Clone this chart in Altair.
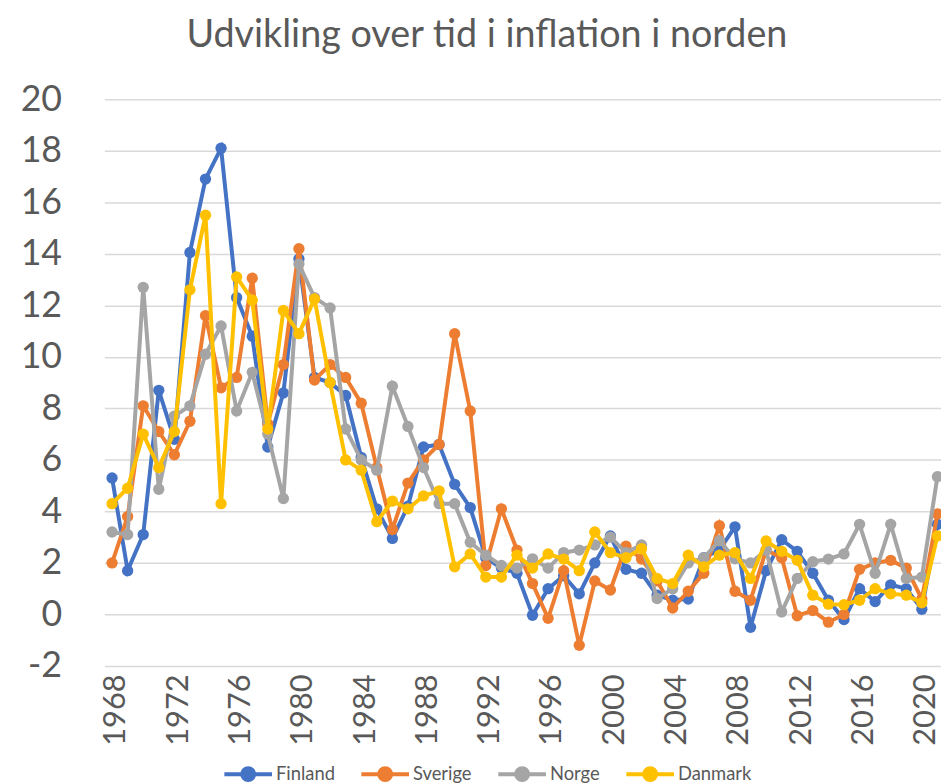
import altair as alt
import pandas as pd

years = list(range(1968, 2022))

finland = [5.3, 1.7, 3.1, 8.7, 6.8, 14.05, 16.9, 18.1, 12.3, 10.8,
           6.5, 8.6, 13.8, 9.2, 9.0, 8.5, 6.1, 4.1, 2.95, 4.2,
           6.5, 6.6, 5.05, 4.15, 2.2, 1.8, 1.6, -0.03, 1.0, 1.5,
           0.8, 2.0, 3.05, 1.75, 1.6, 0.75, 0.55, 0.6, 2.2, 2.5,
           3.4, -0.5, 1.7, 2.9, 2.45, 1.6, 0.55, -0.2, 1.0, 0.5,
           1.15, 1.0, 0.2, 3.5]
sverige = [2.0, 3.8, 8.1, 7.1, 6.2, 7.5, 11.6, 8.8, 9.2, 13.05,
           7.4, 9.7, 14.2, 9.1, 9.7, 9.2, 8.2, 5.7, 3.3, 5.1,
           6.0, 6.6, 10.9, 7.9, 1.9, 4.1, 2.5, 1.2, -0.15, 1.7,
           -1.2, 1.3, 0.95, 2.65, 2.15, 1.3, 0.25, 0.9, 1.6, 3.45,
           0.9, 0.55, 2.5, 2.2, -0.05, 0.15, -0.3, 0.0, 1.75, 2.0,
           2.1, 1.8, 0.6, 3.9]
norge = [3.2, 3.1, 12.7, 4.86, 7.7, 8.1, 10.1, 11.2, 7.9, 9.4,
         7.0, 4.5, 13.6, 12.3, 11.9, 7.2, 6.0, 5.6, 8.86, 7.3,
         5.7, 4.3, 4.3, 2.8, 2.3, 1.9, 1.8, 2.16, 1.8, 2.4,
         2.5, 2.7, 3.0, 2.4, 2.7, 0.62, 1.0, 2.0, 2.2, 2.86,
         2.16, 2.0, 2.5, 0.1, 1.4, 2.05, 2.15, 2.35, 3.5, 1.6,
         3.5, 1.4, 1.45, 5.35]
danmark = [4.3, 4.9, 7.0, 5.7, 7.1, 12.6, 15.5, 4.3, 13.1, 12.2,
           7.2, 11.8, 10.9, 12.25, 9.0, 6.0, 5.6, 3.6, 4.4, 4.1,
           4.6, 4.8, 1.85, 2.35, 1.45, 1.45, 2.3, 1.8, 2.35, 2.15,
           1.7, 3.2, 2.4, 2.2, 2.55, 1.4, 1.2, 2.3, 1.85, 2.3,
           2.4, 1.4, 2.85, 2.45, 2.1, 0.75, 0.4, 0.38, 0.55, 1.0,
           0.8, 0.75, 0.45, 3.05]

series_names = ["Finland", "Sverige", "Norge", "Danmark"]
series_colors = ["#4472C4", "#ED7D31", "#A5A5A5", "#FFC000"]
x_tick_values = list(range(1968, 2021, 4))
y_tick_values = list(range(-2, 21, 2))

rows = []
for name, vals in zip(series_names, [finland, sverige, norge, danmark]):
    for yr, v in zip(years, vals):
        rows.append({"aar": yr, "inflation": v, "land": name})
df = pd.DataFrame(rows)

FONT = "Lato"
GREY = "#595959"

legend_path = ("M-1,0H1"
               "M-0.25,0A0.25,0.25,0,1,0,0.25,0A0.25,0.25,0,1,0,-0.25,0"
               "M-0.125,0A0.125,0.125,0,1,0,0.125,0A0.125,0.125,0,1,0,-0.125,0")

color_enc = alt.Color(
    "land:N",
    scale=alt.Scale(domain=series_names, range=series_colors),
    legend=alt.Legend(
        title=None,
        orient="none",
        direction="horizontal",
        legendX=119,
        legendY=654,
        symbolType=legend_path,
        symbolSize=2304,
        symbolStrokeWidth=4,
        labelFont=FONT,
        labelFontSize=18.5,
        labelColor=GREY,
        labelOffset=2,
        columnPadding=18,
    ),
)

x_enc = alt.X(
    "aar:Q",
    scale=alt.Scale(domain=[1967.5, 2021.23], nice=False, zero=False),
    axis=alt.Axis(
        values=x_tick_values,
        format="d",
        labelAngle=270,
        grid=False,
        domain=False,
        ticks=False,
        labelFont=FONT,
        labelFontSize=31,
        labelColor=GREY,
        labelPadding=8,
        labelOffset=4,
        labelOverlap=False,
        labelFlush=False,
        title=None,
    ),
)
y_enc = alt.Y(
    "inflation:Q",
    scale=alt.Scale(domain=[-2, 20], nice=False, zero=False),
    axis=alt.Axis(
        values=y_tick_values,
        labelExpr="datum.value < 0 ? '-' + abs(datum.value) : datum.label",
        grid=True,
        gridColor="#D9D9D9",
        gridWidth=1.5,
        domain=False,
        ticks=False,
        labelFont=FONT,
        labelFontSize=36,
        labelColor=GREY,
        labelPadding=43,
        title=None,
    ),
)

layers = []
for name in series_names:
    base = alt.Chart(df).transform_filter(alt.datum.land == name)
    layers.append(
        base.mark_line(strokeWidth=4).encode(x=x_enc, y=y_enc, color=color_enc)
    )
    layers.append(
        base.mark_circle(size=130, opacity=1).encode(x=x_enc, y=y_enc, color=color_enc)
    )

chart = alt.layer(*layers).properties(
    width=843,
    height=571,
    autosize=alt.AutoSizeParams(type="none"),
    padding={"left": 97, "top": 89, "right": 0, "bottom": 116},
    title=alt.TitleParams(
        text="Udvikling over tid i inflation i norden",
        font=FONT,
        fontSize=38,
        fontWeight="normal",
        color=GREY,
        anchor="middle",
        dx=-36,
        offset=27,
    ),
    background="white",
).configure_view(stroke=None)

chart.save("out.html", embed_options={"renderer": "svg", "actions": False})
